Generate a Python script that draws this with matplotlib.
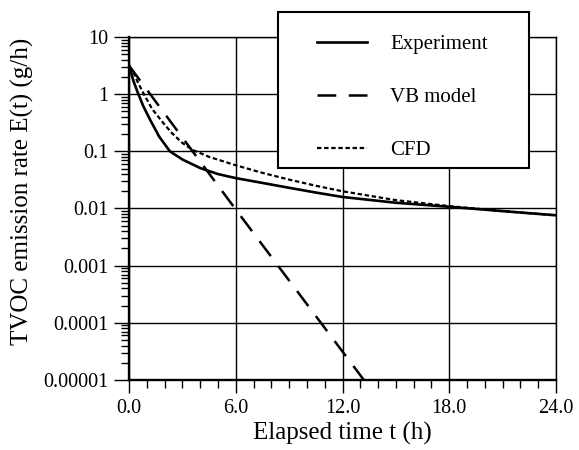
import matplotlib
matplotlib.use("Agg")
import matplotlib.pyplot as plt
from matplotlib.patches import Rectangle
from matplotlib.ticker import LogLocator, MultipleLocator, NullFormatter

plt.rcParams["font.family"] = ["Liberation Serif", "DejaVu Serif"]

# ── Data ──────────────────────────────────────────────────────
t_exp = [0.0, 0.25, 0.5, 0.8, 1.2, 1.7, 2.3, 3.0, 4.0, 5.0, 6.0,
         7.5, 9.0, 10.5, 12.0, 15.0, 18.0, 21.0, 24.0]
e_exp = [3.2, 1.7, 1.05, 0.62, 0.35, 0.18, 0.10, 0.072, 0.051, 0.040, 0.034,
         0.028, 0.023, 0.019, 0.0159, 0.0126, 0.0107, 0.0090, 0.0076]

t_vb = [0.0, 6.0, 13.2]
e_vb = [3.16, 0.0096, 1e-5]

t_cfd = [0.0, 0.2, 0.5, 0.8, 1.3, 1.9, 2.4, 3.0, 3.6, 4.5, 6.0,
         7.5, 9.0, 10.5, 12.0, 15.0, 18.0, 21.0, 24.0]
e_cfd = [3.0, 2.6, 1.6, 1.05, 0.55, 0.32, 0.21, 0.14, 0.105, 0.080, 0.057,
         0.042, 0.032, 0.025, 0.020, 0.014, 0.011, 0.0090, 0.0076]

x_ticks = [0, 6, 12, 18, 24]
x_labels = ["0.0", "6.0", "12.0", "18.0", "24.0"]
y_ticks = [1e-5, 1e-4, 1e-3, 1e-2, 1e-1, 1, 10]
y_labels = ["0.00001", "0.0001", "0.001", "0.01", "0.1", "1", "10"]

# ── Figure ────────────────────────────────────────────────────
fig = plt.figure(figsize=(5.79, 4.5), dpi=100)
ax = fig.add_axes([0.2228, 0.1556, 0.7375, 0.7622])

l_exp, = ax.plot(t_exp, e_exp, color="black", lw=1.9, label="Experiment")
l_vb, = ax.plot(t_vb, e_vb, color="black", lw=1.8, dashes=(7.5, 5),
                label="VB model")
l_cfd, = ax.plot(t_cfd, e_cfd, color="black", lw=1.6, dashes=(2, 1.2),
                 label="CFD")

ax.set_yscale("log")
ax.set_xlim(0, 24)
ax.set_ylim(1e-5, 10)
ax.set_xticks(x_ticks)
ax.set_xticklabels(x_labels)
ax.set_yticks(y_ticks)
ax.set_yticklabels(y_labels)
ax.xaxis.set_minor_locator(MultipleLocator(1))
ax.yaxis.set_minor_locator(LogLocator(base=10, subs=range(2, 10)))
ax.yaxis.set_minor_formatter(NullFormatter())

ax.grid(which="major", color="black", lw=1.0)
ax.set_axisbelow(True)

for side in ["left", "bottom"]:
    ax.spines[side].set_linewidth(1.7)
for side in ["top", "right"]:
    ax.spines[side].set_linewidth(1.0)

ax.tick_params(axis="both", which="both", direction="out", width=1.0,
               labelsize=14.5, color="black")
ax.tick_params(axis="y", which="major", length=11, pad=4)
ax.tick_params(axis="y", which="minor", length=5.5)
ax.tick_params(axis="x", which="major", length=9.5, pad=4)
ax.tick_params(axis="x", which="minor", length=5.8)

ax.set_xlabel("Elapsed time t (h)", fontsize=18, labelpad=3)
ax.set_ylabel("TVOC emission rate E(t) (g/h)", fontsize=18)
ax.yaxis.set_label_coords(-0.222, 0.55)

# legend box sits partly above the axes
fig.add_artist(Rectangle((0.480, 0.627), 0.434, 0.346,
                         transform=fig.transFigure, facecolor="white",
                         edgecolor="black", lw=1.5, zorder=5))
fig.legend(handles=[l_exp, l_vb, l_cfd], loc="upper left",
           bbox_to_anchor=(0.530, 0.946), frameon=False, fontsize=15,
           handlelength=2.4, handletextpad=1.1, labelspacing=1.6,
           borderpad=0).set_zorder(6)

fig.savefig("out.png", dpi=100)
